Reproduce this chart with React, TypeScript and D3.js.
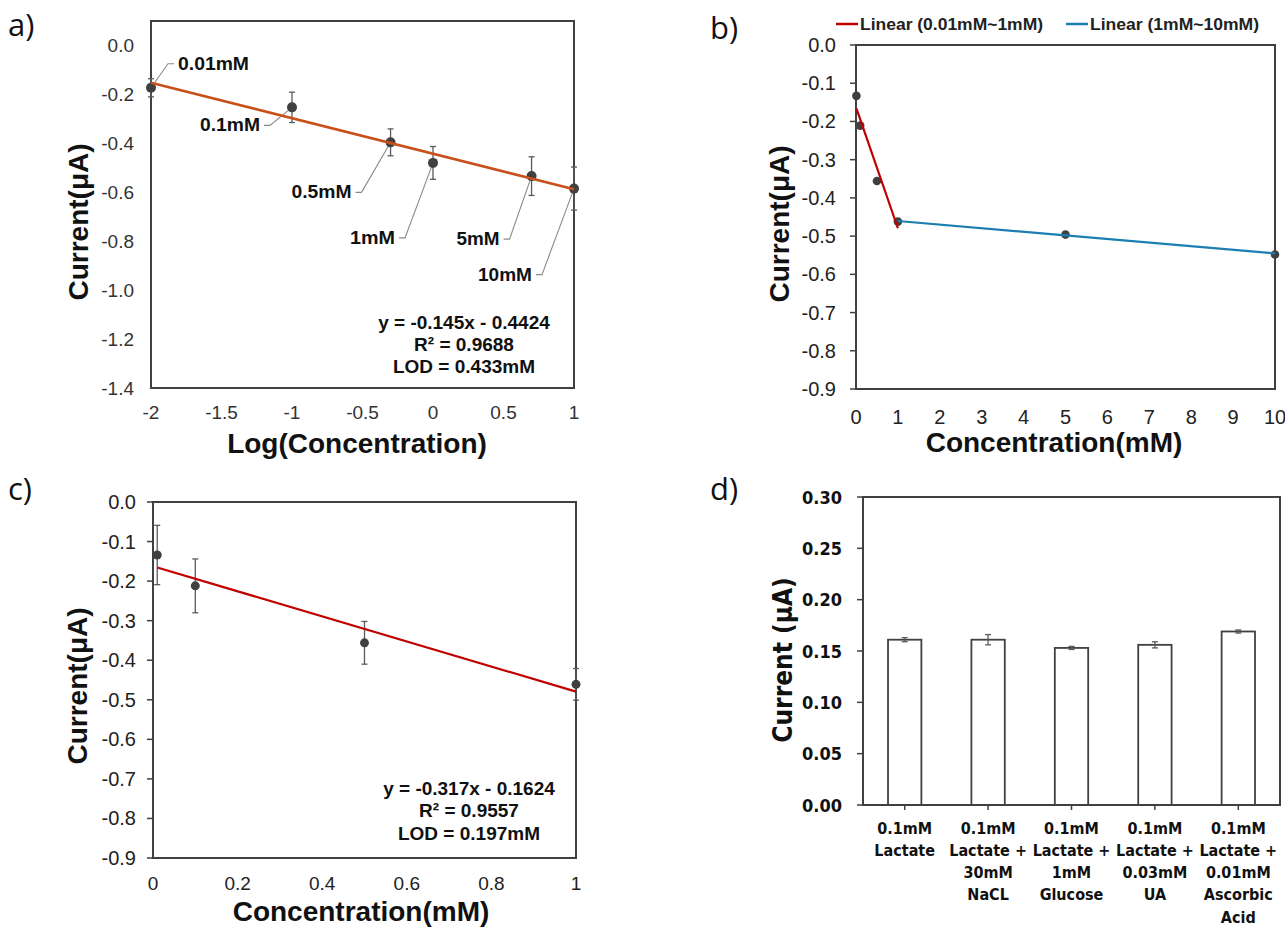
import React from 'react';
import * as d3 from 'd3';

// ---- panel a: current vs log(concentration)
const concA = [0.01, 0.1, 0.5, 1, 5, 10];
const currentA = [-0.173, -0.253, -0.396, -0.48, -0.534, -0.585];
const errA = [0.037, 0.062, 0.055, 0.067, 0.079, 0.088];
const labelsA = ['0.01mM', '0.1mM', '0.5mM', '1mM', '5mM', '10mM'];
const fitA = { slope: -0.145, intercept: -0.4424 };
const eqA = ['y = -0.145x - 0.4424', 'R² = 0.9688', 'LOD = 0.433mM'];
const xTicksA = [-2, -1.5, -1, -0.5, 0, 0.5, 1];
const yTicksA = [0, -0.2, -0.4, -0.6, -0.8, -1.0, -1.2, -1.4];

// ---- panel b: current vs concentration, two linear ranges
const concB = [0.01, 0.1, 0.5, 1, 5, 10];
const currentB = [-0.133, -0.211, -0.356, -0.462, -0.496, -0.548];
const fitsB = [
  { name: 'Linear (0.01mM~1mM)', slope: -0.317, intercept: -0.1624, from: 0.01, to: 1, color: '#C00000' },
  { name: 'Linear (1mM~10mM)', slope: -0.0094, intercept: -0.451, from: 1, to: 10, color: '#1C7DB0' },
];
const xTicksB = [0, 1, 2, 3, 4, 5, 6, 7, 8, 9, 10];
const yTicksB = [0, -0.1, -0.2, -0.3, -0.4, -0.5, -0.6, -0.7, -0.8, -0.9];

// ---- panel c: low range
const concC = [0.01, 0.1, 0.5, 1];
const currentC = [-0.134, -0.212, -0.356, -0.461];
const errC = [0.075, 0.068, 0.054, 0.04];
const fitC = { slope: -0.317, intercept: -0.1624 };
const eqC = ['y = -0.317x - 0.1624', 'R² = 0.9557', 'LOD = 0.197mM'];
const xTicksC = [0, 0.2, 0.4, 0.6, 0.8, 1];
const yTicksC = [0, -0.1, -0.2, -0.3, -0.4, -0.5, -0.6, -0.7, -0.8, -0.9];

// ---- panel d: selectivity bars
const groupsD = [
  ['0.1mM', 'Lactate'],
  ['0.1mM', 'Lactate +', '30mM', 'NaCL'],
  ['0.1mM', 'Lactate +', '1mM', 'Glucose'],
  ['0.1mM', 'Lactate +', '0.03mM', 'UA'],
  ['0.1mM', 'Lactate +', '0.01mM', 'Ascorbic', 'Acid'],
];
const currentD = [0.161, 0.161, 0.153, 0.156, 0.169];
const errD = [0.002, 0.005, 0.0015, 0.003, 0.0015];
const yTicksD = [0, 0.05, 0.1, 0.15, 0.2, 0.25, 0.3];

const FONT = '"Liberation Sans", Arial, Helvetica, sans-serif';
const COND = '"DejaVu Sans Condensed", "Liberation Sans Narrow", "DejaVu Sans", sans-serif';
const AXIS = '#404040';
const DOT = '#404040';
const ERR = '#5a5a5a';

const num = (v: number) => String(+v.toFixed(2));

function Box({ x0, x1, y0, y1 }: any) {
  return <rect x={x0} y={y0} width={x1 - x0} height={y1 - y0} fill="none" stroke={AXIS} strokeWidth={2} />;
}

function ErrorBar({ x, yTop, yBot }: any) {
  return (
    <g stroke={ERR} strokeWidth={1.3}>
      <line x1={x} x2={x} y1={yTop} y2={yBot} />
      <line x1={x - 3} x2={x + 3} y1={yTop} y2={yTop} />
      <line x1={x - 3} x2={x + 3} y1={yBot} y2={yBot} />
    </g>
  );
}

function PanelLetter({ x, y, t }: any) {
  return (
    <text x={x} y={y} fontFamily='"Open Sans", "Noto Sans", sans-serif' fontSize={31} fill="#111" dominantBaseline="central">
      {t}
    </text>
  );
}

export default function App() {
  // panel a scales
  const ax = d3.scaleLinear().domain([-2, 1]).range([151, 574]);
  const ay = d3.scaleLinear().domain([-1.4, 0.1]).range([388, 21]);
  // panel b
  const bx = d3.scaleLinear().domain([0, 10]).range([856, 1275]);
  const by = d3.scaleLinear().domain([-0.9, 0]).range([389, 45]);
  // panel c
  const cx = d3.scaleLinear().domain([0, 1]).range([153, 576]);
  const cy = d3.scaleLinear().domain([-0.9, 0]).range([858, 502]);
  // panel d
  const dx = d3.scaleBand<number>().domain(currentD.map((_, i) => i)).range([863, 1280]).paddingInner(0.6).paddingOuter(0.3);
  const dy = d3.scaleLinear().domain([0, 0.3]).range([805, 497]);

  const fitLine = (sx: any, sy: any, f: any, from: number, to: number) =>
    d3.line<number>().x((v) => sx(v)).y((v) => sy(f.slope * v + f.intercept))([from, to]) || '';

  // leader-line label offsets for panel a (text anchor point relative to marker)
  const labelOff = [
    { dx: 27, dy: -24, anchor: 'start' },
    { dx: -32, dy: 18, anchor: 'end' },
    { dx: -39, dy: 50, anchor: 'end' },
    { dx: -38, dy: 75, anchor: 'end' },
    { dx: -32, dy: 63, anchor: 'end' },
    { dx: -42, dy: 86, anchor: 'end' },
  ];
  const labelW = [71, 60, 60, 45, 43, 54];

  return (
    <svg width={1285} height={929} style={{ position: 'absolute', left: 0, top: 0, background: '#fff' }}>
      <rect width={1285} height={929} fill="#fff" />

      {/* ================= a ================= */}
      <PanelLetter x={8} y={24} t="a)" />
      <g fontFamily={FONT} fill="#333">
        {yTicksA.map((v) => (
          <text key={v} x={134} y={ay(v)} fontSize={19} textAnchor="end" dominantBaseline="central" fill="#333">
            {v.toFixed(1)}
          </text>
        ))}
        {xTicksA.map((v) => (
          <text key={v} x={ax(v)} y={412} fontSize={19} textAnchor="middle" dominantBaseline="central" fill="#333">
            {num(v)}
          </text>
        ))}
      </g>
      <text x={357} y={443} fontFamily={FONT} fontWeight="bold" fontSize={28} textAnchor="middle" dominantBaseline="central" fill="#111">
        Log(Concentration)
      </text>
      <text transform="translate(78,222) rotate(-90)" fontFamily={FONT} fontWeight="bold" fontSize={28} textAnchor="middle" dominantBaseline="central" fill="#111">
        Current(μA)
      </text>
      <Box x0={151} x1={574} y0={ay(0.1)} y1={388} />
      {concA.map((c, i) => {
        const x = ax(Math.log10(c));
        return <ErrorBar key={i} x={x} yTop={ay(currentA[i] + errA[i])} yBot={ay(currentA[i] - errA[i])} />;
      })}
      {concA.map((c, i) => {
        const px = ax(Math.log10(c));
        const py = ay(currentA[i]);
        const o = labelOff[i];
        const tx = px + o.dx;
        const ty = py + o.dy;
        const s = o.anchor === 'start' ? -1 : 1;
        const ex = tx + s * 10;
        const ang = Math.atan2(py - ty, px - ex);
        return (
          <g key={'l' + i}>
            <polyline
              points={`${tx + s * 4},${ty} ${ex},${ty} ${px - Math.cos(ang) * 4},${py - Math.sin(ang) * 4}`}
              fill="none"
              stroke="#8a8a8a"
              strokeWidth={1.1}
            />
            <text x={tx} y={ty} fontFamily={FONT} fontWeight="bold" fontSize={18} textAnchor={o.anchor as any} dominantBaseline="central" fill="#111" textLength={labelW[i]} lengthAdjust="spacingAndGlyphs">
              {labelsA[i]}
            </text>
          </g>
        );
      })}
      {concA.map((c, i) => (
        <circle key={'p' + i} cx={ax(Math.log10(c))} cy={ay(currentA[i])} r={5} fill={DOT} />
      ))}
      <path d={fitLine(ax, ay, fitA, -2, 1)} stroke="#C8501A" strokeWidth={2.6} fill="none" />
      {eqA.map((t, i) => (
        <text key={t} x={464} y={322 + i * 22} fontFamily={FONT} fontWeight="bold" fontSize={19} textAnchor="middle" dominantBaseline="central" fill="#111">
          {t}
        </text>
      ))}

      {/* ================= b ================= */}
      <PanelLetter x={710} y={27} t="b)" />
      {fitsB.map((f, i) => {
        const lx = i === 0 ? 836 : 1066;
        return (
          <g key={f.name}>
            <line x1={lx} x2={lx + 22} y1={24} y2={24} stroke={f.color} strokeWidth={2.5} />
            <text x={lx + 24} y={24} fontFamily={FONT} fontWeight="bold" fontSize={16} dominantBaseline="central" fill="#222" textLength={i === 0 ? 183 : 169} lengthAdjust="spacingAndGlyphs">
              {f.name}
            </text>
          </g>
        );
      })}
      {yTicksB.map((v) => (
        <g key={v}>
          <line x1={850} x2={856} y1={by(v)} y2={by(v)} stroke={AXIS} strokeWidth={1.5} />
          <text x={836} y={by(v)} fontFamily={FONT} fontSize={20} textAnchor="end" dominantBaseline="central" fill="#222">
            {v.toFixed(1)}
          </text>
        </g>
      ))}
      {xTicksB.map((v) => (
        <text key={v} x={bx(v)} y={417} fontFamily={FONT} fontSize={20} textAnchor="middle" dominantBaseline="central" fill="#222">
          {v}
        </text>
      ))}
      <text x={1054} y={442} fontFamily={FONT} fontWeight="bold" fontSize={28} textAnchor="middle" dominantBaseline="central" fill="#111">
        Concentration(mM)
      </text>
      <text transform="translate(779,224) rotate(-90)" fontFamily={FONT} fontWeight="bold" fontSize={28} textAnchor="middle" dominantBaseline="central" fill="#111">
        Current(μA)
      </text>
      <Box x0={856} x1={1275} y0={45} y1={389} />
      {concB.map((c, i) => (
        <circle key={i} cx={bx(c)} cy={by(currentB[i])} r={4.3} fill={DOT} />
      ))}
      {fitsB.map((f) => (
        <path key={f.name} d={fitLine(bx, by, f, f.from, f.to)} stroke={f.color} strokeWidth={2.2} fill="none" />
      ))}

      {/* ================= c ================= */}
      <PanelLetter x={8} y={488} t="c)" />
      {yTicksC.map((v) => (
        <g key={v}>
          <line x1={147} x2={153} y1={cy(v)} y2={cy(v)} stroke={AXIS} strokeWidth={1.5} />
          <text x={136} y={cy(v)} fontFamily={FONT} fontSize={20} textAnchor="end" dominantBaseline="central" fill="#222">
            {v.toFixed(1)}
          </text>
        </g>
      ))}
      {xTicksC.map((v) => (
        <text key={v} x={cx(v)} y={883} fontFamily={FONT} fontSize={19} textAnchor="middle" dominantBaseline="central" fill="#222">
          {num(v)}
        </text>
      ))}
      <text x={361} y={911} fontFamily={FONT} fontWeight="bold" fontSize={28} textAnchor="middle" dominantBaseline="central" fill="#111">
        Concentration(mM)
      </text>
      <text transform="translate(77,686) rotate(-90)" fontFamily={FONT} fontWeight="bold" fontSize={28} textAnchor="middle" dominantBaseline="central" fill="#111">
        Current(μA)
      </text>
      <Box x0={153} x1={576} y0={502} y1={858} />
      {concC.map((c, i) => (
        <ErrorBar key={i} x={cx(c)} yTop={cy(currentC[i] + errC[i])} yBot={cy(currentC[i] - errC[i])} />
      ))}
      {concC.map((c, i) => (
        <circle key={'p' + i} cx={cx(c)} cy={cy(currentC[i])} r={4.5} fill={DOT} />
      ))}
      <path d={fitLine(cx, cy, fitC, 0.01, 1)} stroke="#C00000" strokeWidth={2.2} fill="none" />
      {eqC.map((t, i) => (
        <text key={t} x={469} y={788 + i * 22.5} fontFamily={FONT} fontWeight="bold" fontSize={19} textAnchor="middle" dominantBaseline="central" fill="#111">
          {t}
        </text>
      ))}

      {/* ================= d ================= */}
      <PanelLetter x={710} y={488} t="d)" />
      {yTicksD.map((v) => (
        <g key={v}>
          <line x1={857} x2={863} y1={dy(v)} y2={dy(v)} stroke={AXIS} strokeWidth={1.5} />
          <text x={842} y={dy(v)} fontFamily={COND} fontWeight="bold" fontSize={18} textAnchor="end" dominantBaseline="central" fill="#111">
            {v.toFixed(2)}
          </text>
        </g>
      ))}
      <text transform="translate(783,660) rotate(-90)" fontFamily={COND} fontWeight="bold" fontSize={26} textAnchor="middle" dominantBaseline="central" fill="#111">
        Current (μA)
      </text>
      {currentD.map((v, i) => {
        const x = dx(i)!;
        const c = x + dx.bandwidth() / 2;
        return (
          <g key={i}>
            <rect x={x} y={dy(v)} width={dx.bandwidth()} height={dy(0) - dy(v)} fill="#fff" stroke={AXIS} strokeWidth={1.8} />
            <ErrorBar x={c} yTop={dy(v + errD[i])} yBot={dy(v - errD[i])} />
            <line x1={c} x2={c} y1={805} y2={810} stroke={AXIS} strokeWidth={1.5} />
            <text fontFamily={COND} fontWeight="bold" fontSize={16} textAnchor="middle" fill="#111">
              {groupsD[i].map((t, j) => (
                <tspan key={j} x={c} y={828 + j * 22.3} dominantBaseline="central">
                  {t}
                </tspan>
              ))}
            </text>
          </g>
        );
      })}
      <Box x0={863} x1={1280} y0={497} y1={805} />
    </svg>
  );
}
